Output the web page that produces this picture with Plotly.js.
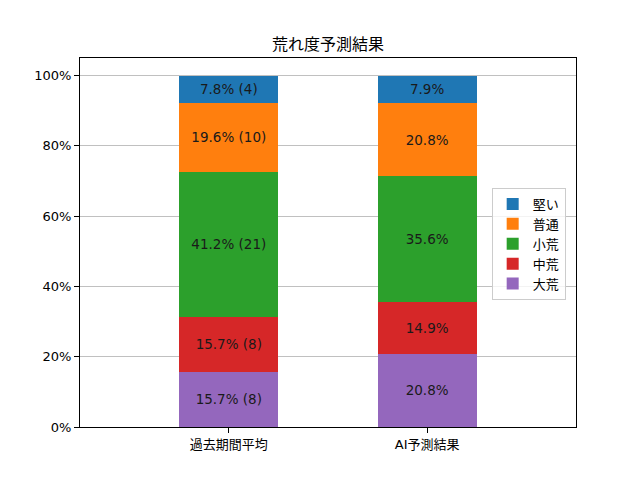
<!DOCTYPE html>
<html>
<head>
<meta charset="utf-8">
<script src="https://cdn.plot.ly/plotly-3.0.1.min.js"></script>
<style>
    html, body { margin: 0; padding: 0; background: #fff; }
    #chart { width: 640px; height: 480px; }
</style>
</head>
<body>
<div id="chart"></div>
<script>
// categories and series (bottom of the stack first)
const categories = ['過去期間平均', 'AI予測結果'];
const seriesNames = ['大荒', '中荒', '小荒', '普通', '堅い'];
const seriesColors = ['#9467bd', '#d62728', '#2ca02c', '#ff7f0e', '#1f77b4'];

// percentages per series: [過去期間平均, AI予測結果]
const pctDaiare = [15.7, 20.8];
const pctChuare = [15.7, 14.9];
const pctShoare = [41.2, 35.6];
const pctFutsu = [19.6, 20.8];
const pctKatai = [7.8, 7.9];

// race counts, only known for the past period
const cntDaiare = [8, null];
const cntChuare = [8, null];
const cntShoare = [21, null];
const cntFutsu = [10, null];
const cntKatai = [4, null];

const yTicks = [0, 20, 40, 60, 80, 100];

const pctList = [pctDaiare, pctChuare, pctShoare, pctFutsu, pctKatai];
const cntList = [cntDaiare, cntChuare, cntShoare, cntFutsu, cntKatai];

// latin glyphs from DejaVu, japanese falls back to Noto CJK
const font = 'DejaVu Sans, Noto Sans CJK JP, sans-serif';

function makeLabel(pct, cnt) {
    let s = pct.toFixed(1) + '%';
    if (cnt !== null && cnt !== undefined) {
        s += ' (' + cnt + ')';
    }
    return s;
}

const data = [];
for (let i = 0; i < seriesNames.length; i++) {
    const pcts = pctList[i];
    const cnts = cntList[i];
    data.push({
        type: 'bar',
        name: seriesNames[i],
        x: categories,
        y: pcts,
        width: 0.5,
        marker: {color: seriesColors[i], line: {width: 0}},
        text: pcts.map((p, j) => makeLabel(p, cnts[j])),
        texttemplate: '%{text}',
        textposition: 'inside',
        insidetextanchor: 'middle',
        textangle: 0,
        constraintext: 'none',
        insidetextfont: {family: font, size: 13.5, color: '#1a1a1a'},
        hoverinfo: 'name+y'
    });
}

const layout = {
    width: 640,
    height: 480,
    margin: {l: 80, r: 64, t: 58, b: 53},
    paper_bgcolor: '#fff',
    plot_bgcolor: '#fff',
    barmode: 'stack',
    font: {family: font, size: 13, color: '#000'},
    title: {
        text: '荒れ度予測結果',
        font: {family: font, size: 16, color: '#000'},
        x: 0.5125,
        xanchor: 'center',
        yref: 'container',
        y: 1 - 44 / 480,
        yanchor: 'middle'
    },
    xaxis: {
        type: 'category',
        range: [-0.75, 1.75],
        showline: true,
        mirror: true,
        linecolor: '#000',
        linewidth: 1,
        ticks: 'outside',
        ticklen: 5,
        tickcolor: '#000',
        showgrid: false,
        zeroline: false,
        tickfont: {family: font, size: 13, color: '#000'}
    },
    yaxis: {
        range: [0, 105],
        tickvals: yTicks,
        ticktext: yTicks.map(v => v + '%'),
        showline: true,
        mirror: true,
        linecolor: '#000',
        linewidth: 1,
        ticks: 'outside',
        ticklen: 5,
        tickcolor: '#000',
        showgrid: true,
        gridcolor: '#b0b0b0',
        gridwidth: 0.8,
        zeroline: false,
        tickfont: {family: font, size: 13, color: '#000'}
    },
    legend: {
        x: 0.83,
        xanchor: 'left',
        y: 0.496,
        yanchor: 'middle',
        traceorder: 'reversed',
        bgcolor: 'rgba(255,255,255,0.8)',
        bordercolor: '#cccccc',
        borderwidth: 1,
        font: {family: font, size: 13, color: '#000'},
        itemwidth: 30,
        tracegroupgap: 0
    },
    showlegend: true
};

Plotly.newPlot('chart', data, layout, {displayModeBar: false, staticPlot: true});
</script>
</body>
</html>
